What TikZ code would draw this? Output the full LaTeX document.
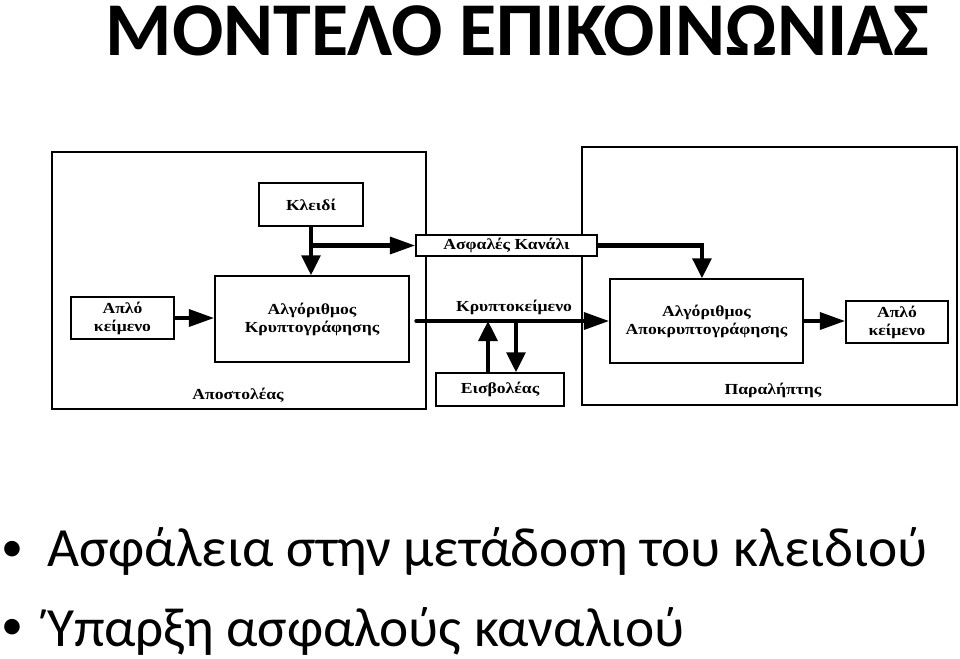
\documentclass[tikz,border=0pt]{standalone}
\usepackage{fontspec}
\setmainfont{Carlito}
\newfontfamily\diagfont[FakeStretch=1.15]{Liberation Serif}
\usetikzlibrary{arrows.meta}

\tikzset{
  frame/.style={draw, line width=1.1pt, inner sep=0pt},
  block/.style={draw, line width=1.1pt, fill=white, inner sep=1pt, align=center,
    font=\diagfont\bfseries\fontsize{11.5}{13.5}\selectfont},
  lbl/.style={font=\diagfont\bfseries\fontsize{11.5}{13.5}\selectfont},
  flow/.style={line width=3.2pt, -{Triangle[length=19pt,width=12.5pt]}},
  drop/.style={line width=3.2pt, -{Triangle[length=15pt,width=14pt]}},
  item/.style={anchor=base west, inner sep=0pt, font=\fontsize{41.5}{48}\selectfont},
  dot/.style={anchor=base west, inner sep=0pt, font=\fontsize{33}{36}\selectfont}
}

\begin{document}
\begin{tikzpicture}[x=0.75pt, y=-0.75pt]
  \useasboundingbox (0,0) rectangle (960,658);

  % Title
  \node[anchor=base, inner sep=0pt, font=\bfseries\fontsize{57}{60}\selectfont] (title) at (517.5,55) {ΜΟΝΤΕΛΟ ΕΠΙΚΟΙΝΩΝΙΑΣ};

  % Sender and receiver
  \node[frame, minimum width=280.5pt, minimum height=192.75pt] (sender) at (239,280.5) {};
  \node[frame, minimum width=281.25pt, minimum height=193.5pt] (receiver) at (769.5,276) {};
  \node[lbl] (sendlbl) at (238,395) {Αποστολέας};
  \node[lbl] (recvlbl) at (773,390) {Παραλήπτης};

  % Blocks
  \node[block, minimum width=78pt, minimum height=32.25pt] (key) at (311,204.5) {Κλειδί};
  \node[block, minimum width=77.25pt, minimum height=31.5pt] (plain) at (122.5,318) {Απλό\\κείμενο};
  \node[block, minimum width=145.5pt, minimum height=64.5pt] (encrypt) at (312,319) {Αλγόριθμος\\Κρυπτογράφησης};
  \node[block, minimum width=135.75pt, minimum height=15.75pt] (channel) at (506.5,245.5) {Ασφαλές Κανάλι};
  \node[block, minimum width=144.75pt, minimum height=63pt] (decrypt) at (706.5,321) {Αλγόριθμος\\Αποκρυπτογράφησης};
  \node[block, minimum width=76.5pt, minimum height=31.5pt] (plaintwo) at (897,322) {Απλό\\κείμενο};
  \node[block, minimum width=96pt, minimum height=24.75pt] (intruder) at (500,389.5) {Εισβολέας};
  \node[lbl] (cipherlbl) at (514,307) {Κρυπτοκείμενο};

  % Key and channel
  \draw[drop] (key.south) -- (key.south |- encrypt.north);
  \coordinate (fork) at (key.south |- channel.west);
  \draw[flow] (fork) -- (channel.west);
  \draw[drop] (channel.east) -| ([xshift=-3.4pt]decrypt.north);

  % Message path
  \draw[flow] (plain.east) -- (plain.east -| encrypt.west);
  \coordinate (tap) at ([xshift=5pt]encrypt.east |- decrypt.west);
  \draw[flow, line cap=round] (tap) -- (decrypt.west);
  \draw[flow] (decrypt.east) -- (decrypt.east -| plaintwo.west);

  % Intruder
  \draw[drop] ([xshift=-9pt]intruder.north) -- ([xshift=-9pt]intruder.north |- tap);
  \draw[drop] ([xshift=12pt]intruder.north |- tap) -- ([xshift=12pt]intruder.north);

  % Bullets
  \node[dot] (dotone) at (1,561) {•};
  \node[item] (itemone) at (47,566) {Ασφάλεια στην μετάδοση του κλειδιού};
  \node[dot] (dottwo) at (1,639) {•};
  \node[item] (itemtwo) at (47,646) {Ύπαρξη ασφαλούς καναλιού};
\end{tikzpicture}
\end{document}
